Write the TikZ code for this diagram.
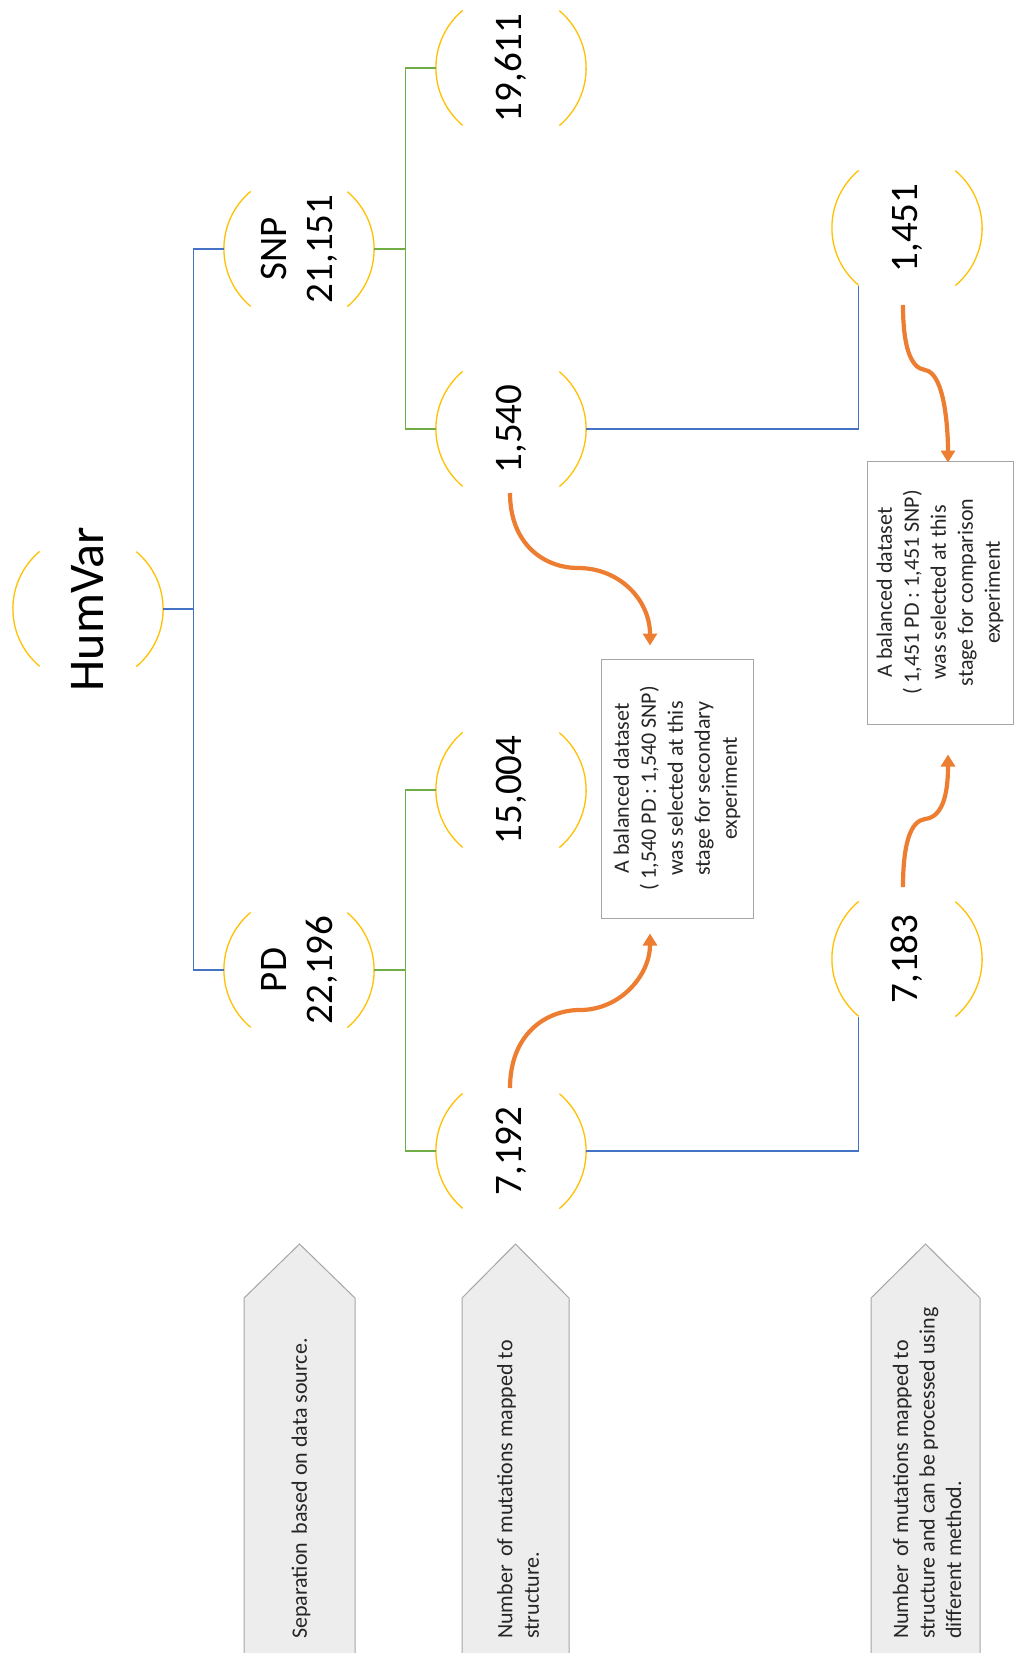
\documentclass[tikz,border=0pt]{standalone}
\usepackage{fontspec}
\setmainfont{Carlito}
\usetikzlibrary{arrows.meta,calc}
\definecolor{arcyel}{HTML}{FFC000}
\definecolor{lblue}{HTML}{4472C4}
\definecolor{lgreen}{HTML}{70AD47}
\definecolor{lorange}{HTML}{ED7D31}
\definecolor{boxgray}{HTML}{A6A6A6}
\definecolor{pentfill}{HTML}{EDEDED}
\definecolor{txtgray}{HTML}{262626}
\begin{document}
\begin{tikzpicture}[x=1pt,y=-1pt,
  arcnode/.style={circle, minimum size=150pt, inner sep=0pt},
  numlab/.style={rotate=90, align=center, inner sep=0pt, font=\fontsize{39}{46}\selectfont},
  arcline/.style={draw=arcyel, line width=1.3pt},
  blueline/.style={draw=lblue, line width=1.3pt},
  greenline/.style={draw=lgreen, line width=1.3pt},
  orarrow/.style={draw=lorange, line width=4.2pt, -{Triangle[width=14pt,length=12pt]}},
  infobox/.style={draw=boxgray, line width=1pt, fill=white, rotate=90, align=center,
    font=\fontsize{22}{27}\selectfont, text=txtgray},
  pentshape/.style={fill=pentfill, draw=boxgray, line width=1pt},
  pentxt/.style={rotate=90, anchor=west, align=left, inner sep=0pt,
    font=\fontsize{22}{26.5}\selectfont, text=txtgray}]
\useasboundingbox (0,0) rectangle (1016,1653);
\fill[white] (0,0) rectangle (1016,1653);

% circle nodes
\node[arcnode, label={[numlab, font=\fontsize{50}{60}\selectfont]center:HumVar}] (hum) at (88,609) {};
\node[arcnode, label={[numlab]center:{SNP\\21,151}}] (snp) at (299,249) {};
\node[arcnode, label={[numlab]center:{PD\\22,196}}] (pd) at (299,970) {};
\node[arcnode, label={[numlab]center:19,611}] (n19611) at (511,68) {};
\node[arcnode, label={[numlab]center:1,540}] (n1540) at (511,429) {};
\node[arcnode, label={[numlab]center:15,004}] (n15004) at (511,790) {};
\node[arcnode, label={[numlab]center:7,192}] (n7192) at (511,1151) {};
\node[arcnode, label={[numlab]center:1,451}] (n1451) at (907,228) {};
\node[arcnode, label={[numlab]center:7,183}] (n7183) at (907,959) {};

\foreach \n in {hum,snp,pd,n19611,n1540,n15004,n7192,n1451,n7183}{
  \draw[arcline] (\n.130) arc[start angle=130,end angle=230,radius=75pt];
  \draw[arcline] (\n.-50) arc[start angle=-50,end angle=50,radius=75pt];
}

% connectors
\draw[blueline] (hum.east) -- ++(30,0) |- (snp.west);
\draw[blueline] (hum.east) -- ++(30,0) |- (pd.west);
\draw[greenline] (snp.east) -- ++(31,0) |- (n19611.west);
\draw[greenline] (snp.east) -- ++(31,0) |- (n1540.west);
\draw[greenline] (pd.east) -- ++(31,0) |- (n15004.west);
\draw[greenline] (pd.east) -- ++(31,0) |- (n7192.west);
\draw[blueline] (n1540.east) -| (n1451.230);
\draw[blueline] (n7192.east) -| (n7183.230);

% info boxes
\node[infobox, minimum width=259pt, minimum height=152pt] (box1) at (677,788.5)
  {A balanced dataset\\( 1,540 PD : 1,540 SNP)\\was selected at this\\stage for secondary\\experiment};
\node[infobox, minimum width=263pt, minimum height=146pt] (box2) at (940,592.5)
  {A balanced dataset\\( 1,451 PD : 1,451 SNP)\\was selected at this\\stage for comparison\\experiment};

% orange arrows
\draw[orarrow] ($(n1540.center)+(-1,64)$) .. controls ($(n1540.center)+(-1,116)$) and ($(n1540.center)+(34,139)$) .. ($(n1540.center)+(67,139)$)
  .. controls ($(n1540.center)+(109,139)$) and ($(box1.center)+(-27,-188)$) .. ($(box1.center)+(-27,-143)$);
\draw[orarrow] ($(n7192.center)+(-1,-63)$) .. controls ($(n7192.center)+(-1,-116)$) and ($(n7192.center)+(34,-141)$) .. ($(n7192.center)+(69,-141)$)
  .. controls ($(n7192.center)+(109,-141)$) and ($(box1.center)+(-27,187)$) .. ($(box1.center)+(-27,145)$);
\draw[orarrow] ($(n1451.center)+(-4,77)$) .. controls ($(n1451.center)+(-4,117)$) and ($(n1451.center)+(3,140)$) .. ($(n1451.center)+(18,142)$)
  .. controls ($(n1451.center)+(38,145)$) and ($(box2.center)+(8,-162)$) .. ($(box2.center)+(8,-130)$);
\draw[orarrow] ($(n7183.center)+(-4,-72)$) .. controls ($(n7183.center)+(-4,-114)$) and ($(n7183.center)+(3,-138)$) .. ($(n7183.center)+(18,-140)$)
  .. controls ($(n7183.center)+(38,-142)$) and ($(box2.center)+(8,195)$) .. ($(box2.center)+(8,162)$);

% pentagon labels
\fill[pentfill] (244,1655) -- (244,1298) -- (299.5,1244) -- (355,1298) -- (355,1655) -- cycle;
\draw[boxgray, line width=1pt] (244,1655) -- (244,1298) -- (299.5,1244) -- (355,1298) -- (355,1655);
\fill[pentfill] (462,1655) -- (462,1298) -- (515.5,1244) -- (569,1298) -- (569,1655) -- cycle;
\draw[boxgray, line width=1pt] (462,1655) -- (462,1298) -- (515.5,1244) -- (569,1298) -- (569,1655);
\fill[pentfill] (871,1655) -- (871,1298) -- (925.5,1244) -- (980,1298) -- (980,1655) -- cycle;
\draw[boxgray, line width=1pt] (871,1655) -- (871,1298) -- (925.5,1244) -- (980,1298) -- (980,1655);

\node[pentxt] (p1t) at (301,1639) {Separation\, based on data source.};
\node[pentxt] (p2t) at (518,1639) {Number\, of mutations mapped to\\structure.};
\node[pentxt] (p3t) at (927,1639) {Number\, of mutations mapped to\\structure and can be processed using\\different method.};
\end{tikzpicture}
\end{document}
